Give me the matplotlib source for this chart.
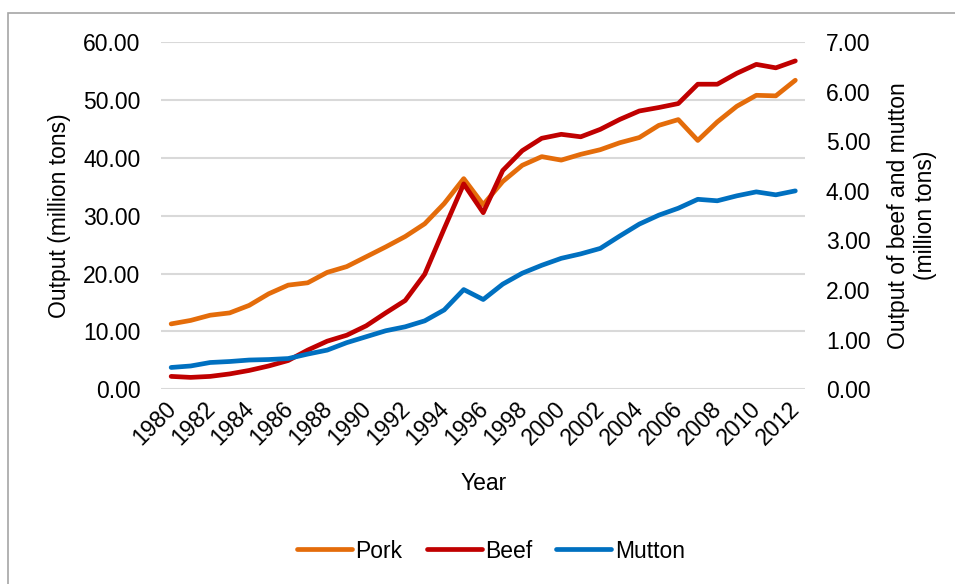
import matplotlib.pyplot as plt
import matplotlib.transforms as mtransforms
from matplotlib.patches import Rectangle

plt.rcParams['font.family'] = ['Liberation Sans', 'DejaVu Sans']

years = list(range(1980, 2013))

# Pork output, million tons (left axis)
pork = [11.3, 11.9, 12.8, 13.2, 14.5, 16.5, 18.0, 18.4, 20.2, 21.2, 22.9,
        24.6, 26.4, 28.6, 32.1, 36.4, 31.9, 35.9, 38.7, 40.2, 39.6, 40.6,
        41.4, 42.6, 43.5, 45.6, 46.6, 43.0, 46.2, 48.9, 50.8, 50.7, 53.4]

# Beef and mutton output, million tons (right axis)
beef = [0.26, 0.24, 0.26, 0.31, 0.38, 0.47, 0.58, 0.79, 0.97, 1.09, 1.28,
        1.54, 1.79, 2.32, 3.24, 4.14, 3.56, 4.41, 4.81, 5.06, 5.14, 5.09,
        5.24, 5.44, 5.61, 5.68, 5.76, 6.15, 6.15, 6.37, 6.55, 6.48, 6.62]
mutton = [0.44, 0.47, 0.54, 0.56, 0.59, 0.60, 0.62, 0.71, 0.79, 0.94, 1.06,
          1.18, 1.26, 1.38, 1.60, 2.01, 1.81, 2.12, 2.34, 2.50, 2.64, 2.73,
          2.84, 3.09, 3.33, 3.51, 3.65, 3.83, 3.80, 3.90, 3.98, 3.92, 4.00]

left_ticks = [0, 10, 20, 30, 40, 50, 60]
right_ticks = [0, 1, 2, 3, 4, 5, 6, 7]
year_ticks = years[::2]

fig = plt.figure(figsize=(9.55, 5.84), dpi=100)

# outer chart border
fig.patches.append(Rectangle((8 / 955, -0.05), 1.2, 1 - 13 / 584 + 0.05,
                             transform=fig.transFigure, fill=False,
                             edgecolor='#a6a6a6', linewidth=1.2))

ax = fig.add_axes([0.169, 0.3334, 0.674, 0.5946])
ax2 = ax.twinx()

lw = 3.4
fs = 16.5
ax.plot(years, pork, color='#E46C0A', linewidth=lw, solid_capstyle='round', label='Pork', zorder=3)
ax2.plot(years, beef, color='#C00000', linewidth=lw, solid_capstyle='round', label='Beef', zorder=3)
ax2.plot(years, mutton, color='#0070C0', linewidth=lw, solid_capstyle='round', label='Mutton', zorder=3)

ax.set_xlim(1979.5, 2012.5)
ax.set_ylim(0, 60)
ax2.set_ylim(0, 7)

ax.grid(axis='y', color='#d9d9d9', linewidth=1.5, zorder=0)
ax.set_axisbelow(True)
for a in (ax, ax2):
    for s in a.spines.values():
        s.set_visible(False)
    a.tick_params(length=0)
ax.tick_params(axis='y', pad=15)
ax2.tick_params(axis='y', pad=15)
ax.tick_params(axis='x', pad=6)

ax.set_yticks(left_ticks)
ax.set_yticklabels([f'{v:.2f}' for v in left_ticks], fontsize=fs)
ax2.set_yticks(right_ticks)
ax2.set_yticklabels([f'{v:.2f}' for v in right_ticks], fontsize=fs)
ax.set_xticks(year_ticks)
ax.set_xticklabels([str(y) for y in year_ticks], fontsize=fs, rotation=45,
                   ha='right', rotation_mode='anchor')
# nudge rotated year labels a little to the left
shift = mtransforms.ScaledTranslation(-7 / 100, 0, fig.dpi_scale_trans)
for lab in ax.get_xticklabels():
    lab.set_transform(lab.get_transform() + shift)

ax.set_xlabel('Year', fontsize=fs, labelpad=16)
ax.set_ylabel('Output (million tons)', fontsize=fs, labelpad=9)
ax2.set_ylabel('Output of beef and mutton\n(million tons)', fontsize=fs, labelpad=12)

h1, l1 = ax.get_legend_handles_labels()
h2, l2 = ax2.get_legend_handles_labels()
fig.legend(h1 + h2, l1 + l2, loc='center', bbox_to_anchor=(491 / 955, 1 - 551 / 584),
           ncol=3, frameon=False, fontsize=fs, handlelength=2.4, handletextpad=0.15,
           columnspacing=1.05)

plt.savefig('out.png', dpi=100)
